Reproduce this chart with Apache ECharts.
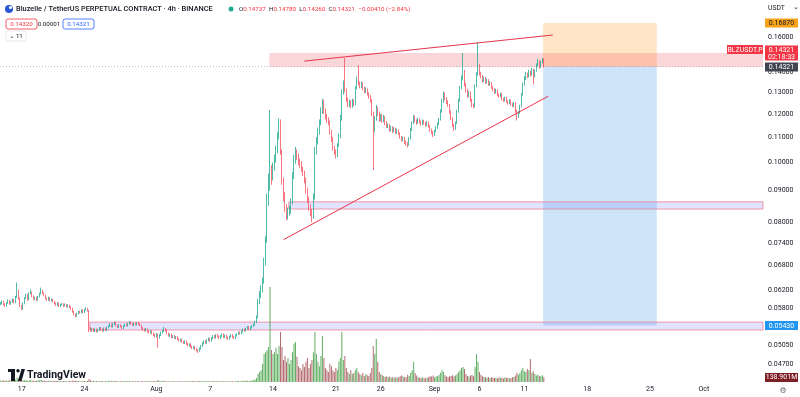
<!DOCTYPE html>
<html><head><meta charset="utf-8">
<script src="https://cdn.jsdelivr.net/npm/echarts@6/dist/echarts.min.js"></script>
<style>html,body{margin:0;padding:0;background:#fff}#c{width:800px;height:397px}</style>
</head><body><div id="c"></div>
<script>
// ---------- data (4h candles, BLZUSDT.P) ----------
const startTime = Date.UTC(2023, 6, 14, 16); // first 4h slot: Jul 14 16:00
const slotCount = 510;                         // time slots shown on the axis
const firstOpen = 0.0588;
const closes = [
0.0590,0.0594,0.0588,0.0585,0.0591,0.0596,0.0589,0.0593,0.0598,0.0592,
0.0604,0.0618,0.0601,0.0585,0.0578,0.0590,0.0602,0.0609,0.0598,0.0612,
0.0615,0.0606,0.0600,0.0603,0.0597,0.0605,0.0612,0.0619,0.0613,0.0608,
0.0601,0.0598,0.0603,0.0596,0.0599,0.0594,0.0590,0.0586,0.0591,0.0584,
0.0587,0.0589,0.0584,0.0588,0.0583,0.0586,0.0582,0.0578,0.0572,0.0566,
0.0563,0.0568,0.0572,0.0570,0.0575,0.0571,0.0576,0.0578,0.0574,0.0538,
0.0533,0.0536,0.0532,0.0535,0.0531,0.0534,0.0538,0.0535,0.0533,0.0537,
0.0534,0.0539,0.0542,0.0545,0.0541,0.0546,0.0548,0.0543,0.0540,0.0544,
0.0541,0.0538,0.0542,0.0545,0.0543,0.0547,0.0549,0.0546,0.0544,0.0547,
0.0545,0.0548,0.0546,0.0543,0.0538,0.0535,0.0533,0.0536,0.0531,0.0529,
0.0532,0.0527,0.0524,0.0521,0.0526,0.0519,0.0524,0.0529,0.0532,0.0536,
0.0533,0.0527,0.0523,0.0525,0.0520,0.0522,0.0518,0.0520,0.0516,0.0513,
0.0515,0.0511,0.0509,0.0512,0.0507,0.0504,0.0506,0.0502,0.0499,0.0501,
0.0497,0.0495,0.0493,0.0498,0.0503,0.0508,0.0512,0.0509,0.0514,0.0517,
0.0513,0.0518,0.0522,0.0519,0.0524,0.0521,0.0518,0.0522,0.0525,0.0520,
0.0523,0.0519,0.0517,0.0521,0.0524,0.0520,0.0518,0.0523,0.0526,0.0529,
0.0527,0.0531,0.0535,0.0533,0.0537,0.0540,0.0536,0.0539,0.0542,0.0545,
0.0550,0.0560,0.0594,0.0610,0.0625,0.0640,0.0690,0.0748,0.0870,0.0930,
0.0960,0.0945,0.0985,0.1010,0.1045,0.1100,0.1160,0.1040,0.0930,0.0880,
0.0845,0.0815,0.0830,0.0835,0.0860,0.0950,0.1010,0.1040,0.1025,0.1000,
0.0995,0.0975,0.0960,0.0935,0.0900,0.0870,0.0845,0.0830,0.0815,0.0880,
0.1045,0.1080,0.1125,0.1160,0.1210,0.1255,0.1215,0.1190,0.1175,0.1160,
0.1120,0.1090,0.1055,0.1040,0.1025,0.1065,0.1100,0.1180,0.1300,0.1340,
0.1310,0.1265,0.1240,0.1255,0.1235,0.1260,0.1245,0.1320,0.1360,0.1345,
0.1330,0.1345,0.1320,0.1305,0.1315,0.1295,0.1280,0.1262,0.1200,0.1130,
0.1180,0.1225,0.1200,0.1175,0.1190,0.1170,0.1185,0.1160,0.1145,0.1150,
0.1130,0.1140,0.1125,0.1135,0.1120,0.1128,0.1115,0.1100,0.1090,0.1095,
0.1080,0.1075,0.1070,0.1095,0.1130,0.1160,0.1185,0.1170,0.1160,0.1175,
0.1165,0.1155,0.1168,0.1160,0.1150,0.1162,0.1148,0.1130,0.1120,0.1110,
0.1125,0.1140,0.1155,0.1175,0.1210,0.1260,0.1295,0.1270,0.1255,0.1240,
0.1210,0.1180,0.1150,0.1135,0.1160,0.1210,0.1260,0.1320,0.1370,0.1405,
0.1340,0.1310,0.1285,0.1300,0.1265,0.1240,0.1235,0.1330,0.1390,0.1432,
0.1395,0.1380,0.1360,0.1372,0.1350,0.1362,0.1340,0.1348,0.1325,0.1315,
0.1300,0.1312,0.1290,0.1282,0.1295,0.1270,0.1262,0.1275,0.1258,0.1250,
0.1262,0.1245,0.1238,0.1250,0.1215,0.1190,0.1205,0.1235,0.1290,0.1340,
0.1370,0.1395,0.1380,0.1405,0.1390,0.1415,0.1380,0.1410,0.1440,0.1460,
0.1430,0.1455,0.14737,0.14321];
const highs = [
0.0593,0.0597,0.0596,0.0590,0.0593,0.0599,0.0598,0.0595,0.0601,0.0600,
0.0607,0.0638,0.0621,0.0603,0.0587,0.0592,0.0604,0.0612,0.0611,0.0615,
0.0622,0.0617,0.0608,0.0605,0.0605,0.0607,0.0614,0.0626,0.0621,0.0615,
0.0610,0.0603,0.0605,0.0604,0.0601,0.0600,0.0596,0.0592,0.0593,0.0592,
0.0589,0.0591,0.0590,0.0590,0.0589,0.0588,0.0587,0.0584,0.0580,0.0574,
0.0568,0.0570,0.0574,0.0574,0.0577,0.0577,0.0578,0.0582,0.0580,0.0576,
0.0540,0.0538,0.0538,0.0537,0.0537,0.0536,0.0540,0.0540,0.0537,0.0539,
0.0539,0.0541,0.0544,0.0548,0.0547,0.0548,0.0551,0.0550,0.0545,0.0546,
0.0546,0.0543,0.0544,0.0547,0.0547,0.0549,0.0552,0.0551,0.0548,0.0549,
0.0549,0.0550,0.0550,0.0548,0.0545,0.0540,0.0537,0.0538,0.0537,0.0533,
0.0534,0.0533,0.0529,0.0526,0.0528,0.0527,0.0526,0.0531,0.0534,0.0540,
0.0538,0.0535,0.0529,0.0527,0.0527,0.0524,0.0524,0.0522,0.0522,0.0518,
0.0517,0.0517,0.0513,0.0514,0.0513,0.0509,0.0508,0.0508,0.0504,0.0503,
0.0503,0.0499,0.0497,0.0500,0.0505,0.0510,0.0514,0.0514,0.0516,0.0519,
0.0519,0.0520,0.0524,0.0524,0.0526,0.0526,0.0523,0.0524,0.0527,0.0527,
0.0525,0.0525,0.0521,0.0523,0.0526,0.0526,0.0522,0.0525,0.0528,0.0531,
0.0531,0.0533,0.0537,0.0537,0.0539,0.0542,0.0542,0.0541,0.0544,0.0547,
0.0553,0.0564,0.0600,0.0618,0.0632,0.0650,0.0700,0.0760,0.0890,0.0960,
0.1217,0.0990,0.1000,0.1030,0.1065,0.1120,0.1180,0.1175,0.1050,0.0945,
0.0895,0.0855,0.0845,0.0850,0.0875,0.0965,0.1030,0.1060,0.1050,0.1035,
0.1015,0.1005,0.0985,0.0970,0.0945,0.0910,0.0880,0.0855,0.0840,0.0890,
0.1060,0.1100,0.1140,0.1175,0.1230,0.1270,0.1265,0.1225,0.1200,0.1185,
0.1170,0.1130,0.1100,0.1065,0.1050,0.1075,0.1115,0.1195,0.1315,0.1360,
0.1480,0.1320,0.1275,0.1265,0.1262,0.1270,0.1268,0.1330,0.1380,0.1440,
0.1355,0.1355,0.1350,0.1328,0.1325,0.1320,0.1300,0.1288,0.1268,0.1210,
0.1190,0.1240,0.1232,0.1210,0.1200,0.1198,0.1195,0.1190,0.1168,0.1158,
0.1156,0.1148,0.1146,0.1142,0.1140,0.1135,0.1132,0.1120,0.1105,0.1102,
0.1100,0.1086,0.1080,0.1100,0.1138,0.1168,0.1195,0.1192,0.1176,0.1183,
0.1180,0.1170,0.1175,0.1173,0.1165,0.1168,0.1166,0.1152,0.1135,0.1125,
0.1130,0.1146,0.1162,0.1182,0.1220,0.1270,0.1305,0.1300,0.1278,0.1262,
0.1245,0.1215,0.1185,0.1156,0.1166,0.1218,0.1270,0.1332,0.1385,0.1507,
0.1415,0.1348,0.1318,0.1308,0.1305,0.1270,0.1248,0.1340,0.1402,0.1570,
0.1445,0.1405,0.1388,0.1380,0.1378,0.1370,0.1366,0.1356,0.1352,0.1330,
0.1320,0.1318,0.1316,0.1295,0.1300,0.1298,0.1275,0.1280,0.1279,0.1262,
0.1268,0.1266,0.1250,0.1256,0.1254,0.1220,0.1212,0.1242,0.1298,0.1350,
0.1382,0.1405,0.1400,0.1415,0.1410,0.1425,0.1420,0.1418,0.1450,0.1475,
0.1466,0.1465,0.1480,0.1478];
const lows = [
0.0586,0.0588,0.0586,0.0582,0.0583,0.0589,0.0587,0.0587,0.0591,0.0590,
0.0590,0.0602,0.0598,0.0582,0.0575,0.0576,0.0588,0.0600,0.0596,0.0597,
0.0610,0.0604,0.0597,0.0598,0.0595,0.0596,0.0603,0.0610,0.0611,0.0606,
0.0599,0.0596,0.0596,0.0594,0.0594,0.0592,0.0588,0.0584,0.0584,0.0582,
0.0582,0.0585,0.0582,0.0583,0.0581,0.0581,0.0580,0.0576,0.0570,0.0564,
0.0560,0.0561,0.0566,0.0568,0.0568,0.0569,0.0569,0.0574,0.0572,0.0530,
0.0530,0.0531,0.0530,0.0530,0.0529,0.0529,0.0532,0.0533,0.0531,0.0531,
0.0532,0.0532,0.0537,0.0540,0.0539,0.0539,0.0544,0.0541,0.0538,0.0538,
0.0539,0.0536,0.0536,0.0540,0.0541,0.0541,0.0545,0.0544,0.0542,0.0542,
0.0543,0.0543,0.0544,0.0541,0.0536,0.0533,0.0531,0.0531,0.0529,0.0527,
0.0527,0.0525,0.0522,0.0519,0.0519,0.0500,0.0517,0.0522,0.0527,0.0530,
0.0531,0.0525,0.0521,0.0521,0.0518,0.0518,0.0516,0.0516,0.0514,0.0511,
0.0511,0.0509,0.0507,0.0507,0.0505,0.0502,0.0502,0.0500,0.0497,0.0497,
0.0495,0.0493,0.0490,0.0492,0.0496,0.0501,0.0506,0.0507,0.0507,0.0512,
0.0511,0.0511,0.0516,0.0517,0.0517,0.0519,0.0516,0.0516,0.0520,0.0518,
0.0518,0.0517,0.0515,0.0515,0.0519,0.0518,0.0516,0.0516,0.0521,0.0524,
0.0525,0.0525,0.0529,0.0531,0.0531,0.0535,0.0534,0.0534,0.0537,0.0540,
0.0543,0.0548,0.0558,0.0588,0.0602,0.0615,0.0635,0.0680,0.0740,0.0850,
0.0900,0.0920,0.0935,0.0970,0.1000,0.1035,0.1090,0.1030,0.0920,0.0865,
0.0830,0.0805,0.0808,0.0820,0.0825,0.0855,0.0940,0.0995,0.1010,0.0990,
0.0980,0.0965,0.0950,0.0925,0.0890,0.0860,0.0835,0.0818,0.0800,0.0810,
0.0870,0.1030,0.1070,0.1110,0.1150,0.1200,0.1200,0.1175,0.1160,0.1150,
0.1110,0.1080,0.1045,0.1030,0.1015,0.1020,0.1060,0.1095,0.1170,0.1290,
0.1300,0.1255,0.1230,0.1230,0.1225,0.1228,0.1235,0.1240,0.1315,0.1335,
0.1320,0.1322,0.1312,0.1295,0.1298,0.1285,0.1270,0.1252,0.1190,0.0972,
0.1120,0.1170,0.1190,0.1165,0.1168,0.1160,0.1162,0.1150,0.1138,0.1138,
0.1122,0.1124,0.1118,0.1119,0.1112,0.1114,0.1108,0.1093,0.1082,0.1083,
0.1072,0.1066,0.1058,0.1065,0.1090,0.1125,0.1155,0.1162,0.1152,0.1155,
0.1158,0.1148,0.1150,0.1153,0.1143,0.1145,0.1140,0.1122,0.1112,0.1100,
0.1105,0.1120,0.1135,0.1150,0.1170,0.1205,0.1250,0.1262,0.1245,0.1232,
0.1200,0.1172,0.1142,0.1125,0.1130,0.1155,0.1205,0.1255,0.1315,0.1360,
0.1330,0.1300,0.1275,0.1278,0.1255,0.1230,0.1225,0.1230,0.1325,0.1385,
0.1385,0.1370,0.1350,0.1352,0.1342,0.1344,0.1332,0.1334,0.1318,0.1306,
0.1292,0.1295,0.1282,0.1274,0.1277,0.1262,0.1255,0.1257,0.1250,0.1242,
0.1245,0.1238,0.1230,0.1232,0.1205,0.1170,0.1182,0.1200,0.1230,0.1285,
0.1335,0.1362,0.1372,0.1375,0.1380,0.1385,0.1340,0.1375,0.1405,0.1432,
0.1420,0.1425,0.1448,0.1426];
const volumes = [ // millions
45,38,52,30,41,36,48,33,40,55,
72,125,90,60,48,42,55,47,38,44,
58,36,32,29,35,40,46,62,38,34,
30,27,33,28,25,31,29,36,26,30,
24,22,28,25,21,23,27,30,35,32,
38,29,26,24,22,28,25,31,27,85,
48,30,26,22,28,24,21,25,20,23,
19,26,30,34,22,28,31,25,20,23,
21,19,24,27,20,25,29,22,18,21,
20,23,19,17,26,22,19,21,24,20,
18,22,25,21,19,55,30,26,28,33,
22,24,19,17,21,18,20,16,19,22,
18,21,17,20,24,19,22,18,26,20,
23,19,28,30,26,24,29,21,25,27,
20,24,26,19,23,21,18,22,25,19,
21,18,16,20,23,19,17,22,25,28,
24,30,35,28,33,38,30,36,42,48,
70,110,220,280,330,500,780,830,890,970,
2640,890,780,830,950,780,1000,1390,970,610,
720,560,670,500,610,830,1060,1110,700,440,
390,330,500,420,560,670,390,500,610,830,
1390,780,560,440,720,1280,670,390,330,280,
500,440,330,280,390,330,560,670,1390,610,
720,390,280,220,330,220,250,330,390,280,
220,190,250,170,220,190,170,250,390,1000,
780,1200,560,280,220,190,170,140,160,130,
150,120,140,110,130,120,140,160,180,150,
130,140,200,170,260,330,560,250,180,140,
120,110,130,100,120,110,140,160,150,180,
130,150,170,200,260,330,280,190,150,140,
160,170,190,150,180,220,280,330,390,420,
360,220,170,150,180,200,160,420,780,560,
280,200,160,140,130,120,140,110,130,120,
110,120,100,130,110,120,100,130,110,120,
100,110,130,140,180,260,200,250,330,390,
300,280,360,330,640,260,300,220,180,200,
170,160,190,138.901];

const dateTicks = ['2023-07-17','2023-07-24','2023-08-01','2023-08-07','2023-08-14','2023-08-21','2023-08-26','2023-09-01','2023-09-06','2023-09-11','2023-09-18','2023-09-25','2023-10-01'];
const dateTickLabels = ['17','24','Aug','7','14','21','26','Sep','6','11','18','25','Oct'];
const priceTicks = [0.16,0.15,0.14,0.13,0.12,0.11,0.10,0.09,0.08,0.074,0.068,0.062,0.058,0.0505,0.047];

// drawings (category index / price)
const zoneResistance = [180, 509, 0.1507, 0.1430];
const zoneSupportMid = [193, 509, 0.0863, 0.0840];
const zoneSupportLow = [60, 509, 0.0550, 0.0534];
const trendUpper = [203, 0.1462, 369, 0.1612];
const trendLower = [189, 0.0749, 366, 0.1282];
const positionTool = [363, 438, 0.1687, 0.14321, 0.0543]; // start, end, target, entry, stop
const lastPrice = 0.14321;
const countdown = '02:18:33';
const lastVolumeLabel = '138.901M';

// ---------- build ----------
const PRICE_MIN = 0.04395, PRICE_MAX = 0.1838;
const FONT = 'Roboto, "DejaVu Sans", sans-serif';
const UP = '#22ab94', DOWN = '#f7525f';
const pad = n => String(n).padStart(2, '0');
const cats = [];
for (let i = 0; i < slotCount; i++) {
  const d = new Date(startTime + i * 4 * 3600e3);
  cats.push(d.getUTCFullYear() + '-' + pad(d.getUTCMonth() + 1) + '-' + pad(d.getUTCDate()) + ' ' + pad(d.getUTCHours()) + ':00');
}
const labelMap = {};
dateTicks.forEach((d, i) => { labelMap[d + ' 00:00'] = dateTickLabels[i]; });
const opens = closes.map((c, i) => i === 0 ? firstOpen : closes[i - 1]);
const candleData = closes.map((c, i) => [opens[i], c, lows[i], highs[i]]);
const volData = volumes.map((v, i) => ({ value: v, itemStyle: { color: closes[i] >= opens[i] ? 'rgba(67,160,71,0.85)' : 'rgba(160,70,75,0.8)' } }));

function rectShape(api, cs, i0, i1, pTop, pBot, toEdge) {
  const bw = api.size([1, 0])[0];
  const x0 = api.coord([i0, pTop])[0] - bw / 2;
  const x1 = toEdge ? cs.x + cs.width : api.coord([i1, pTop])[0] + bw / 2;
  const y0 = api.coord([i0, pTop])[1], y1 = api.coord([i0, pBot])[1];
  return { x: x0, y: y0, width: x1 - x0, height: y1 - y0 };
}

const chart = echarts.init(document.getElementById('c'), null, { renderer: 'canvas', width: 800, height: 397 });
chart.setOption({
  animation: false,
  backgroundColor: '#ffffff',
  grid: [
    { left: 0, right: 37, top: 0, bottom: 15, outerBoundsMode: 'none' },
    { left: 0, right: 37, bottom: 15, height: 100, outerBoundsMode: 'none' }
  ],
  xAxis: [
    { type: 'category', gridIndex: 0, data: cats, boundaryGap: true,
      axisLine: { show: false }, axisTick: { show: false }, splitLine: { show: false },
      axisLabel: { interval: (idx, val) => labelMap[val] !== undefined, formatter: v => labelMap[v] || '',
        color: '#131722', fontSize: 7, fontFamily: FONT, margin: 4 } },
    { type: 'category', gridIndex: 1, data: cats, boundaryGap: true, show: false }
  ],
  yAxis: [
    { type: 'log', logBase: 10, gridIndex: 0, min: PRICE_MIN, max: PRICE_MAX, position: 'right',
      axisLine: { show: false }, axisTick: { show: false }, axisLabel: { show: false }, splitLine: { show: false } },
    { type: 'value', gridIndex: 1, min: 0, max: 2780, show: false, splitLine: { show: false } }
  ],
  series: [
    { // zones & position tool (behind candles)
      type: 'custom', xAxisIndex: 0, yAxisIndex: 0, z: 1, silent: true, data: [[0, 0.1]],
      renderItem(params, api) {
        const cs = params.coordSys, ch = [];
        const [pS, pE, pT, pEn, pSt] = positionTool;
        ch.push({ type: 'rect', shape: rectShape(api, cs, pS, pE, pT, pEn, false), style: { fill: 'rgba(255,160,40,0.27)' } });
        ch.push({ type: 'rect', shape: rectShape(api, cs, pS, pE, pEn, pSt, false), style: { fill: 'rgba(30,136,229,0.22)' } });
        ch.push({ type: 'rect', shape: rectShape(api, cs, zoneResistance[0], zoneResistance[1], zoneResistance[2], zoneResistance[3], true), style: { fill: 'rgba(242,54,69,0.2)' } });
        [zoneSupportMid, zoneSupportLow].forEach(z => {
          ch.push({ type: 'rect', shape: rectShape(api, cs, z[0], z[1], z[2], z[3], true), style: { fill: 'rgba(125,130,245,0.22)', stroke: 'rgba(240,120,145,0.75)', lineWidth: 1 } });
        });
        const y = api.coord([0, lastPrice])[1];
        ch.push({ type: 'line', shape: { x1: cs.x, y1: y, x2: cs.x + cs.width, y2: y }, style: { stroke: '#a0a3ab', lineWidth: 1, lineDash: [1, 2], opacity: 0.7 } });
        return { type: 'group', children: ch };
      }
    },
    {
      type: 'candlestick', xAxisIndex: 0, yAxisIndex: 0, z: 3, data: candleData, barWidth: 1,
      itemStyle: { color: UP, color0: DOWN, borderColor: UP, borderColor0: DOWN, borderWidth: 0.8 }
    },
    {
      type: 'bar', xAxisIndex: 1, yAxisIndex: 1, z: 2, data: volData, barWidth: 1, silent: true
    },
    { // trend lines
      type: 'custom', xAxisIndex: 0, yAxisIndex: 0, z: 5, silent: true, data: [[0, 0.1]],
      renderItem(params, api) {
        const ch = [trendUpper, trendLower].map(t => {
          const a = api.coord([t[0], t[1]]), b = api.coord([t[2], t[3]]);
          return { type: 'line', shape: { x1: a[0], y1: a[1], x2: b[0], y2: b[1] }, style: { stroke: '#e8344a', lineWidth: 1 } };
        });
        return { type: 'group', children: ch };
      }
    },
    { // price scale labels
      type: 'custom', xAxisIndex: 0, yAxisIndex: 0, z: 6, silent: true, clip: false,
      data: priceTicks.map(p => [0, p]),
      renderItem(params, api) {
        const cs = params.coordSys, p = api.value(1);
        return { type: 'text', x: cs.x + cs.width + 5, y: api.coord([0, p])[1],
          style: { text: p.toFixed(5), fill: '#131722', font: '7px ' + FONT, textAlign: 'left', textVerticalAlign: 'middle' } };
      }
    },
    { // price tags
      type: 'custom', xAxisIndex: 0, yAxisIndex: 0, z: 8, silent: true, clip: false, data: [[0, 0.1]],
      renderItem(params, api) {
        const cs = params.coordSys, R = cs.x + cs.width, ch = [];
        const tag = (y, h, bg, lines, fg, x, w) => {
          ch.push({ type: 'rect', shape: { x: x, y: y, width: w, height: h }, style: { fill: bg } });
          lines.forEach((t, k) => ch.push({ type: 'text', x: x + w / 2, y: y + (k + 0.5) * (h / lines.length) + 0.5,
            style: { text: t, fill: fg, font: '7px ' + FONT, textAlign: 'center', textVerticalAlign: 'middle' } }));
        };
        const yT = api.coord([0, positionTool[2]])[1];
        const yE = api.coord([0, lastPrice])[1];
        const yS = api.coord([0, positionTool[4]])[1];
        tag(yT - 4.5, 9, '#f7a21b', [positionTool[2].toFixed(5)], '#131722', R + 2, 33);
        tag(yE - 21, 15, '#f23645', [lastPrice.toFixed(5), countdown], '#ffffff', R + 2, 33);
        tag(yE - 21.5, 9, '#f23645', ['BLZUSDT.P'], '#ffffff', R - 36, 36);
        tag(yE - 4, 9, '#434651', [lastPrice.toFixed(5)], '#ffffff', R + 2, 33);
        tag(yS - 4.5, 9, '#2196f3', [positionTool[4].toFixed(5)], '#ffffff', R + 2, 33);
        return { type: 'group', children: ch };
      }
    },
    { // volume tag
      type: 'custom', xAxisIndex: 1, yAxisIndex: 1, z: 8, silent: true, clip: false,
      data: [[volumes.length - 1, volumes[volumes.length - 1]]],
      renderItem(params, api) {
        const cs = params.coordSys, R = cs.x + cs.width;
        const y = api.coord([api.value(0), api.value(1)])[1];
        return { type: 'group', children: [
          { type: 'rect', shape: { x: R + 2, y: y - 4, width: 33, height: 9 }, style: { fill: '#7e1f26' } },
          { type: 'text', x: R + 18.5, y: y + 0.5, style: { text: lastVolumeLabel, fill: '#ffffff', font: '7px ' + FONT, textAlign: 'center', textVerticalAlign: 'middle' } }
        ] };
      }
    }
  ],
  graphic: [
    { type: 'circle', shape: { cx: 9, cy: 9, r: 4 }, style: { fill: '#2a55d6' }, z: 100 },
    { type: 'circle', shape: { cx: 10.5, cy: 7.5, r: 1.6 }, style: { fill: '#ffffff' }, z: 101 },
    { type: 'text', x: 16, y: 9, z: 100, style: { text: 'Bluzelle / TetherUS PERPETUAL CONTRACT · 4h · BINANCE', fill: '#131722', font: '500 7.4px ' + FONT, textVerticalAlign: 'middle' } },
    { type: 'circle', shape: { cx: 231, cy: 9, r: 2.5 }, style: { fill: '#22ab94' }, z: 100 },
    { type: 'text', x: 239, y: 9, z: 100, style: {
        text: '{l|O}{r|0.14737} {l|H}{r|0.14780} {l|L}{r|0.14260} {l|C}{r|0.14321} {r|−0.00410 (−2.84%)}',
        textVerticalAlign: 'middle',
        rich: { l: { fill: '#131722', fontSize: 6.2, fontFamily: FONT }, r: { fill: '#f23645', fontSize: 6.2, fontFamily: FONT } } } },
    { type: 'rect', shape: { x: 6, y: 19, width: 31, height: 10, r: 2 }, style: { fill: '#fff', stroke: '#f23645', lineWidth: 0.8 }, z: 100 },
    { type: 'text', x: 21.5, y: 24.5, z: 101, style: { text: '0.14320', fill: '#f23645', font: '6.2px ' + FONT, textAlign: 'center', textVerticalAlign: 'middle' } },
    { type: 'text', x: 49, y: 24.5, z: 101, style: { text: '0.00001', fill: '#131722', font: '6.2px ' + FONT, textAlign: 'center', textVerticalAlign: 'middle' } },
    { type: 'rect', shape: { x: 63, y: 19, width: 31, height: 10, r: 2 }, style: { fill: '#fff', stroke: '#2962ff', lineWidth: 0.8 }, z: 100 },
    { type: 'text', x: 78.5, y: 24.5, z: 101, style: { text: '0.14321', fill: '#2962ff', font: '6.2px ' + FONT, textAlign: 'center', textVerticalAlign: 'middle' } },
    { type: 'rect', shape: { x: 6, y: 31, width: 20, height: 10, r: 2 }, style: { fill: '#fff', stroke: '#e0e3eb', lineWidth: 0.8 }, z: 100 },
    { type: 'text', x: 16, y: 36.5, z: 101, style: { text: '⌄ 11', fill: '#131722', font: '6.2px ' + FONT, textAlign: 'center', textVerticalAlign: 'middle' } },
    { type: 'text', x: 768, y: 8, z: 100, style: { text: 'USDT', fill: '#131722', font: '6.8px ' + FONT, textVerticalAlign: 'middle' } },
    { type: 'text', x: 796, y: 7, z: 100, style: { text: '⌄', fill: '#131722', font: '6.8px ' + FONT, textAlign: 'center', textVerticalAlign: 'middle' } },
    { type: 'rect', shape: { x: 8, y: 369, width: 7, height: 3 }, style: { fill: '#131722' }, z: 100 },
    { type: 'rect', shape: { x: 11, y: 369, width: 4, height: 12 }, style: { fill: '#131722' }, z: 100 },
    { type: 'circle', shape: { cx: 18, cy: 370.8, r: 1.7 }, style: { fill: '#131722' }, z: 100 },
    { type: 'polygon', shape: { points: [[18, 381], [21.5, 369], [25, 369], [21.5, 381]] }, style: { fill: '#131722' }, z: 100 },
    { type: 'text', x: 27, y: 375.5, z: 100, style: { text: 'TradingView', fill: '#131722', font: 'bold 10.5px ' + FONT, textVerticalAlign: 'middle' } },
    { type: 'text', x: 783, y: 391, z: 100, style: { text: '⚙', fill: '#6a6d78', font: '8px "DejaVu Sans"', textAlign: 'center', textVerticalAlign: 'middle' } }
  ]
});
</script>
</body></html>
